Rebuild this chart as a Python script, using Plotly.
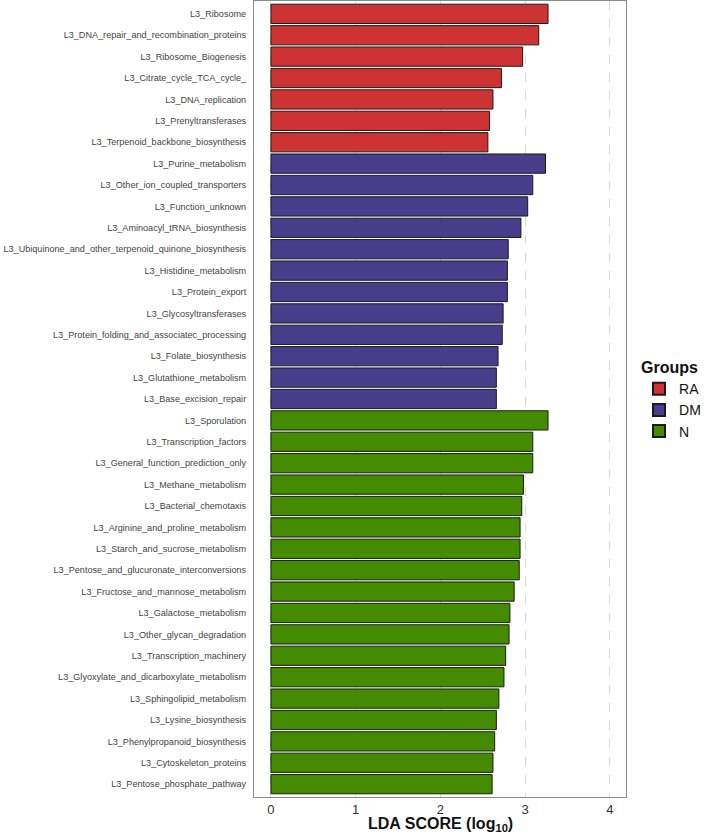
import plotly.graph_objects as go

ra_labels = ["L3_Ribosome", "L3_DNA_repair_and_recombination_proteins", "L3_Ribosome_Biogenesis",
             "L3_Citrate_cycle_TCA_cycle_", "L3_DNA_replication", "L3_Prenyltransferases",
             "L3_Terpenoid_backbone_biosynthesis"]
ra_values = [3.27, 3.16, 2.97, 2.72, 2.62, 2.58, 2.56]

dm_labels = ["L3_Purine_metabolism", "L3_Other_ion_coupled_transporters", "L3_Function_unknown",
             "L3_Aminoacyl_tRNA_biosynthesis", "L3_Ubiquinone_and_other_terpenoid_quinone_biosynthesis",
             "L3_Histidine_metabolism", "L3_Protein_export", "L3_Glycosyltransferases",
             "L3_Protein_folding_and_associatec_processing", "L3_Folate_biosynthesis",
             "L3_Glutathione_metabolism", "L3_Base_excision_repair"]
dm_values = [3.24, 3.09, 3.03, 2.95, 2.80, 2.79, 2.79, 2.74, 2.73, 2.68, 2.66, 2.66]

n_labels = ["L3_Sporulation", "L3_Transcription_factors", "L3_General_function_prediction_only",
            "L3_Methane_metabolism", "L3_Bacterial_chemotaxis", "L3_Arginine_and_proline_metabolism",
            "L3_Starch_and_sucrose_metabolism", "L3_Pentose_and_glucuronate_interconversions",
            "L3_Fructose_and_mannose_metabolism", "L3_Galactose_metabolism", "L3_Other_glycan_degradation",
            "L3_Transcription_machinery", "L3_Glyoxylate_and_dicarboxylate_metabolism",
            "L3_Sphingolipid_metabolism", "L3_Lysine_biosynthesis", "L3_Phenylpropanoid_biosynthesis",
            "L3_Cytoskeleton_proteins", "L3_Pentose_phosphate_pathway"]
n_values = [3.27, 3.09, 3.09, 2.98, 2.96, 2.94, 2.94, 2.93, 2.87, 2.82, 2.81, 2.77, 2.75,
            2.69, 2.66, 2.64, 2.62, 2.61]

groups = ["RA", "DM", "N"]
colors = ["#CD3333", "#483D8B", "#458B00"]
x_ticks = [0, 1, 2, 3, 4]

all_labels = ra_labels + dm_labels + n_labels

fig = go.Figure()
for name, labs, vals, col in zip(groups, [ra_labels, dm_labels, n_labels],
                                 [ra_values, dm_values, n_values], colors):
    fig.add_trace(go.Bar(
        x=vals, y=labs, orientation="h", name=name,
        marker=dict(color=col, line=dict(color="#1a1a1a", width=1)),
    ))

fig.update_layout(
    width=709, height=835,
    margin=dict(l=254, r=83, t=1, b=38, autoexpand=False),
    paper_bgcolor="white", plot_bgcolor="white",
    barmode="overlay", bargap=0.1,
    font=dict(family="Liberation Sans, Arial, sans-serif"),
    legend=dict(
        title=dict(text="<b>Groups</b>", font=dict(size=16, color="#111")),
        font=dict(size=14, color="#111"),
        x=1.035, xanchor="left", y=0.499, yanchor="middle",
        tracegroupgap=0, itemsizing="constant",
    ),
    xaxis=dict(
        range=[-0.2, 4.19], tickvals=x_ticks, ticktext=[str(t) for t in x_ticks],
        showgrid=True, gridcolor="#d9d9d9", griddash="dash", gridwidth=1,
        zeroline=False, showline=True, linecolor="#8a8a8a", linewidth=1, mirror=True,
        ticks="", tickfont=dict(size=13, color="#333"), automargin=False,
    ),
    yaxis=dict(
        type="category", categoryorder="array", categoryarray=all_labels[::-1],
        range=[-0.6, len(all_labels) - 0.4],
        showgrid=False, zeroline=False, showline=True, linecolor="#8a8a8a", linewidth=1, mirror=True,
        ticks="", tickfont=dict(size=9.1, color="#444"), ticklabelstandoff=5, automargin=False,
    ),
    annotations=[dict(
        text="<b>LDA SCORE (log<sub>10</sub>)</b>", xref="paper", yref="paper",
        x=0.5, y=-0.035, xanchor="center", yanchor="middle", showarrow=False,
        font=dict(size=16, color="#111"),
    )],
)

fig.write_html("out.html", config={"displayModeBar": False},
               post_script="document.body.style.margin='0';")
